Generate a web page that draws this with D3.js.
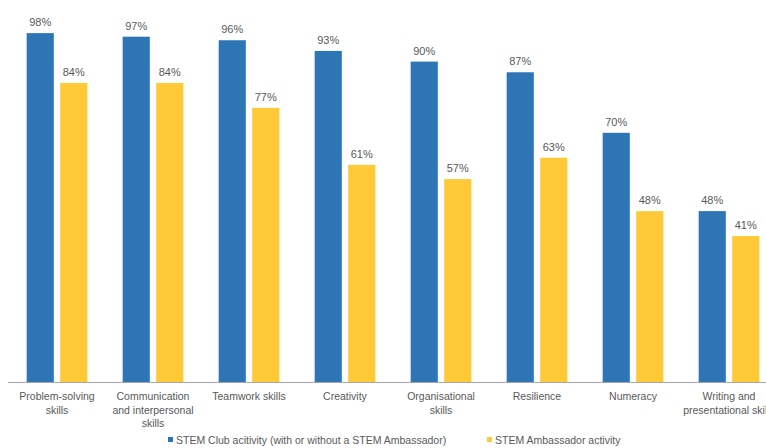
<!DOCTYPE html>
<html><head><meta charset="utf-8">
<script src="https://cdn.jsdelivr.net/npm/d3@7"></script>
<style>body{margin:0;background:#fff;}svg{display:block;font-family:"Liberation Sans",Arial,sans-serif;}</style>
</head><body><svg id="c" width="766" height="448"></svg>
<script>
const categories = [["Problem-solving","skills"],["Communication","and interpersonal","skills"],["Teamwork skills"],["Creativity"],["Organisational","skills"],["Resilience"],["Numeracy"],["Writing and","presentational skills"]];
const seriesNames = ["STEM Club acitivity (with or without a STEM Ambassador)","STEM Ambassador activity"];
const clubValues = [98,97,96,93,90,87,70,48];
const ambassadorValues = [84,84,77,61,57,63,48,41];
const colors = ["#2E75B6","#FFC937"];

const svg = d3.select("#c");
const baseY = 382;
const x = d3.scaleBand().domain(d3.range(categories.length)).range([9, 777]).paddingInner(0).paddingOuter(0);
const y = d3.scaleLinear().domain([0,100]).range([baseY, 26]);
const inner = d3.scaleBand().domain([0,1]).range([-32, 32]).paddingInner(0.19).paddingOuter(0.05);

const series = [clubValues, ambassadorValues];
series.forEach((vals, si) => {
  const g = svg.append("g");
  g.selectAll("rect").data(vals).join("rect")
    .attr("x", (d,i) => x(i) + x.bandwidth()/2 + inner(si))
    .attr("y", d => y(d))
    .attr("width", inner.bandwidth())
    .attr("height", d => baseY - y(d))
    .attr("fill", colors[si]);
  g.selectAll("text").data(vals).join("text")
    .attr("x", (d,i) => x(i) + x.bandwidth()/2 + inner(si) + inner.bandwidth()/2)
    .attr("y", d => y(d) - 7)
    .attr("text-anchor","middle")
    .attr("font-size", 11)
    .attr("fill", "#595959")
    .text(d => d + "%");
});

svg.append("line").attr("x1", 8).attr("x2", 766).attr("y1", baseY+0.5).attr("y2", baseY+0.5)
  .attr("stroke", "#A6A6A6").attr("stroke-width", 1);

const lab = svg.append("g");
categories.forEach((lines, i) => {
  const t = lab.append("text").attr("text-anchor","middle").attr("font-size", 10.5).attr("fill","#595959");
  lines.forEach((ln, k) => {
    t.append("tspan").attr("x", x(i) + x.bandwidth()/2).attr("y", 400 + k*13.5).text(ln);
  });
});

const legendX = [168, 487];
seriesNames.forEach((n, i) => {
  svg.append("rect").attr("x", legendX[i]).attr("y", 437).attr("width", 5).attr("height", 5).attr("fill", colors[i]);
  svg.append("text").attr("x", legendX[i] + 8).attr("y", 444).attr("font-size", 10.5).attr("fill", "#595959").text(n);
});
</script></body></html>
